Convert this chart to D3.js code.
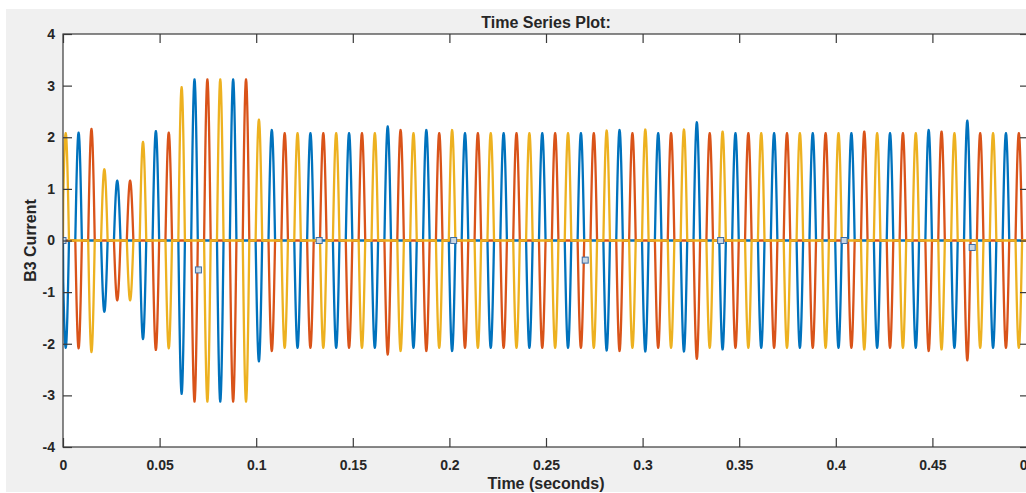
<!DOCTYPE html>
<html>
<head>
<meta charset="utf-8">
<script src="https://cdn.jsdelivr.net/npm/d3@7"></script>
<style>
  html, body { margin: 0; padding: 0; background: #ffffff; }
  svg { display: block; }
  text { font-family: "Liberation Sans", Arial, Helvetica, sans-serif; fill: #262626; font-weight: bold; }
</style>
</head>
<body>
<svg id="chart" width="1026" height="493"></svg>
<script>
// ---------------- data ----------------
const title = "Time Series Plot:";
const xLabel = "Time (seconds)";
const yLabel = "B3 Current";
const xTicks = [0, 0.05, 0.1, 0.15, 0.2, 0.25, 0.3, 0.35, 0.4, 0.45, 0.5];
const xTickLabels = ["0", "0.05", "0.1", "0.15", "0.2", "0.25", "0.3", "0.35", "0.4", "0.45", "0.5"];
const yTicks = [-4, -3, -2, -1, 0, 1, 2, 3, 4];
const yTickLabels = ["-4", "-3", "-2", "-1", "0", "1", "2", "3", "4"];

const seriesNames = ["A", "B", "C"];
const seriesColors = ["#0072BD", "#D95319", "#EDB120"];

// current pulses: one pulse event every 1/150 s, starting at 1.4 ms
const pulseFirstTime = 0.0014;
const pulseSpacing = 1 / 150;
const pulseHalfWidth = 0.0017;
// phase that carries the positive / negative pulse at each event (cycling)
const positivePhaseOrder = ["C", "A", "B"];
const negativePhaseOrder = ["A", "B", "C"];
// peak magnitude of each pulse event
const pulseAmps = [
  2.08, 2.09, 2.16, 1.38, 1.16, 1.16, 1.91, 2.12, 2.09, 2.97,
  3.12, 3.12, 3.12, 3.12, 3.12, 2.34, 2.14, 2.08, 2.08, 2.08,
  2.08, 2.08, 2.08, 2.08, 2.08, 2.21, 2.14, 2.08, 2.14, 2.08,
  2.14, 2.08, 2.08, 2.08, 2.08, 2.08, 2.08, 2.08, 2.08, 2.08,
  2.08, 2.08, 2.13, 2.14, 2.08, 2.15, 2.08, 2.08, 2.15, 2.29,
  2.08, 2.11, 2.08, 2.08, 2.08, 2.08, 2.08, 2.08, 2.08, 2.08,
  2.08, 2.08, 2.11, 2.08, 2.08, 2.08, 2.08, 2.14, 2.11, 2.08,
  2.32, 2.08, 2.08, 2.08, 2.08
];

// square markers
const markerTimes = [0, 0.0701, 0.1326, 0.2022, 0.2703, 0.3404, 0.4043, 0.4706];
const markerValues = [0, -0.57, 0, 0, -0.38, 0, 0, -0.135];

// ---------------- layout ----------------
const W = 1026, H = 493;
const plot = { left: 63, right: 1029, top: 34, bottom: 447 };
const svg = d3.select("#chart");

svg.append("rect").attr("x", 6).attr("y", 9).attr("width", W - 6).attr("height", 483).attr("fill", "#f0f0f0");
svg.append("rect").attr("x", plot.left).attr("y", plot.top)
  .attr("width", plot.right - plot.left).attr("height", plot.bottom - plot.top).attr("fill", "#ffffff");

const x = d3.scaleLinear().domain([0, 0.5]).range([plot.left, plot.right]);
const y = d3.scaleLinear().domain([-4, 4]).range([plot.bottom, plot.top]);

svg.append("clipPath").attr("id", "clip").append("rect")
  .attr("x", plot.left).attr("y", plot.top)
  .attr("width", plot.right - plot.left).attr("height", plot.bottom - plot.top);

// build each phase's waveform from the pulse amplitudes
function buildSeries(name) {
  const pts = [[0, 0]];
  pulseAmps.forEach((amp, k) => {
    let sign = 0;
    if (positivePhaseOrder[k % 3] === name) sign = 1;
    else if (negativePhaseOrder[k % 3] === name) sign = -1;
    if (!sign) return;
    const tc = pulseFirstTime + k * pulseSpacing;
    const n = 16;
    for (let i = 0; i <= n; i++) {
      const t = tc - pulseHalfWidth + (2 * pulseHalfWidth) * i / n;
      if (t < 0) continue;
      const v = sign * amp * Math.sin(Math.PI * i / n);
      pts.push([t, v]);
    }
  });
  pts.push([0.5, 0]);
  return pts;
}

const line = d3.line().x(d => x(d[0])).y(d => y(d[1]));
const gLines = svg.append("g").attr("clip-path", "url(#clip)");
seriesNames.forEach((name, i) => {
  gLines.append("path")
    .datum(buildSeries(name))
    .attr("d", line)
    .attr("fill", "none")
    .attr("stroke", seriesColors[i])
    .attr("stroke-width", 2.3)
    .attr("stroke-linejoin", "round");
});

// markers
gLines.selectAll("rect.mk").data(markerTimes.map((t, i) => [t, markerValues[i]]))
  .enter().append("rect").attr("class", "mk")
  .attr("x", d => x(d[0]) - 3).attr("y", d => y(d[1]) - 3)
  .attr("width", 6).attr("height", 6)
  .attr("fill", "#c9d6e2").attr("stroke", "#3d6ea6").attr("stroke-width", 1);

// axes
const axisColor = "#3a3a3a";
const tickLen = 9;
const axBottom = d3.axisBottom(x).tickValues(xTicks).tickFormat((d, i) => xTickLabels[i]).tickSizeInner(-tickLen).tickSizeOuter(0).tickPadding(13);
const axTop = d3.axisTop(x).tickValues(xTicks).tickFormat("").tickSizeInner(-tickLen).tickSizeOuter(0);
const axLeft = d3.axisLeft(y).tickValues(yTicks).tickFormat((d, i) => yTickLabels[i]).tickSizeInner(-tickLen).tickSizeOuter(0).tickPadding(8);
const axRight = d3.axisRight(y).tickValues(yTicks).tickFormat("").tickSizeInner(-tickLen).tickSizeOuter(0);

function styleAxis(g) {
  g.select(".domain").remove();
  g.selectAll("line").attr("stroke", axisColor).attr("stroke-width", 1.2);
  g.selectAll("text").attr("fill", "#262626").style("font-size", "14px").style("font-weight", "bold")
    .style("font-family", "'Liberation Sans', Arial, sans-serif");
}
svg.append("g").attr("transform", `translate(0,${plot.bottom})`).call(axBottom).call(styleAxis);
svg.append("g").attr("transform", `translate(0,${plot.top})`).call(axTop).call(styleAxis);
svg.append("g").attr("transform", `translate(${plot.left},0)`).call(axLeft).call(styleAxis);
svg.append("g").attr("transform", `translate(${plot.right},0)`).call(axRight).call(styleAxis);

// box
svg.append("rect").attr("x", plot.left).attr("y", plot.top)
  .attr("width", plot.right - plot.left).attr("height", plot.bottom - plot.top)
  .attr("fill", "none").attr("stroke", axisColor).attr("stroke-width", 1.2);

// texts
svg.append("text").attr("x", (plot.left + plot.right) / 2).attr("y", 28)
  .attr("text-anchor", "middle").style("font-size", "16px").text(title);
svg.append("text").attr("x", (plot.left + plot.right) / 2).attr("y", 489)
  .attr("text-anchor", "middle").style("font-size", "16px").text(xLabel);
svg.append("text").attr("transform", `translate(36,${y(0)}) rotate(-90)`)
  .attr("text-anchor", "middle").style("font-size", "16px").text(yLabel);
</script>
</body>
</html>
